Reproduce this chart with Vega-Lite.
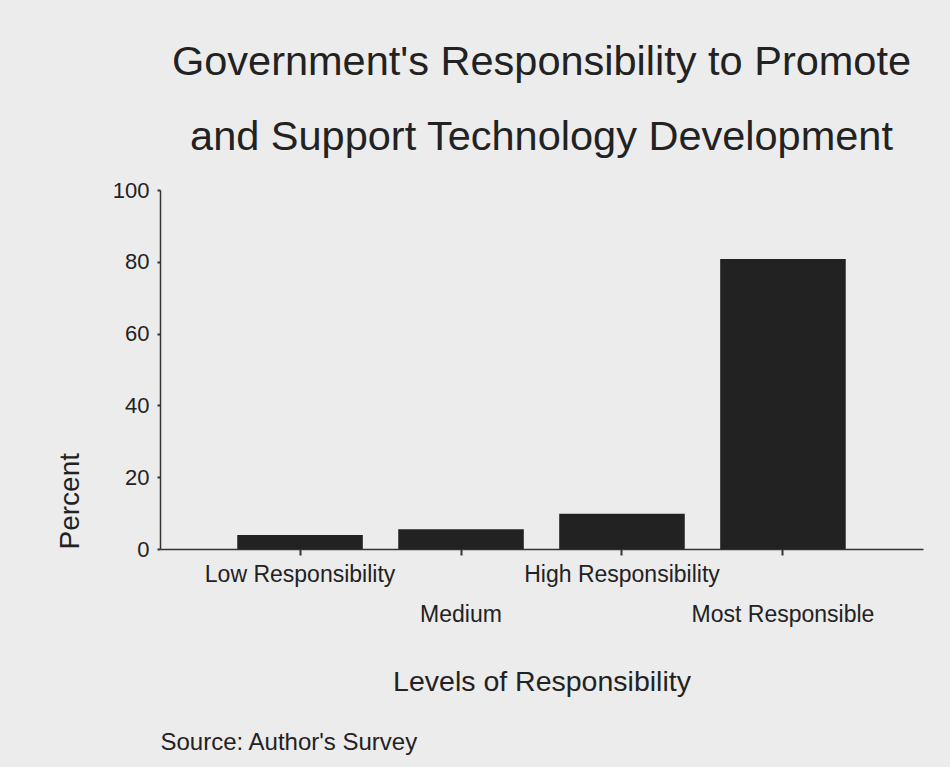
{
  "$schema": "https://vega.github.io/schema/vega-lite/v6.json",
  "autosize": {"type": "none"},
  "padding": {"left": 160, "top": 190, "right": 27, "bottom": 218},
  "width": 763,
  "height": 359,
  "background": "#ececec",
  "data": {"values": [
    {"level": "Low Responsibility", "percent": 3.9},
    {"level": "Medium", "percent": 5.5},
    {"level": "High Responsibility", "percent": 9.8},
    {"level": "Most Responsible", "percent": 80.8}
  ]},
  "title": {
    "text": ["Government's Responsibility to Promote", "and Support Technology Development"],
    "font": "Liberation Sans",
    "fontSize": 41.5,
    "fontWeight": "normal",
    "color": "#222222",
    "lineHeight": 75,
    "anchor": "middle",
    "baseline": "alphabetic",
    "offset": -12
  },
  "config": {
    "view": {"stroke": null},
    "font": "Liberation Sans"
  },
  "resolve": {"axis": {"x": "independent"}},
  "layer": [
    {
      "mark": {"type": "bar", "color": "#222222"},
      "encoding": {
        "x": {
          "field": "level",
          "type": "nominal",
          "sort": null,
          "scale": {"paddingInner": 0.22, "paddingOuter": 0.48},
          "axis": {
            "orient": "bottom",
            "title": "Levels of Responsibility",
            "titleFont": "Liberation Sans",
            "titleFontSize": 28.5,
            "titleFontWeight": "normal",
            "titleColor": "#222222",
            "titleBaseline": "alphabetic",
            "titlePadding": 64,
            "labelAngle": 0,
            "labelFont": "Liberation Sans",
            "labelFontSize": 23,
            "labelColor": "#222222",
            "labelLineHeight": 40,
            "labelPadding": 8,
            "labelLimit": 500,
            "labelExpr": "(datum.value == 'Medium' || datum.value == 'Most Responsible') ? ['', datum.value] : datum.value",
            "tickSize": 6,
            "tickWidth": 2,
            "tickColor": "#333333",
            "domainColor": "#333333",
            "domainWidth": 1.5,
            "grid": false
          }
        },
        "y": {
          "field": "percent",
          "type": "quantitative",
          "scale": {"domain": [0, 100]},
          "axis": {
            "title": "Percent",
            "titleFont": "Liberation Sans",
            "titleFontSize": 28,
            "titleFontWeight": "normal",
            "titleColor": "#222222",
            "titleAnchor": "start",
            "titleBaseline": "alphabetic",
            "titlePadding": 34,
            "values": [0, 20, 40, 60, 80, 100],
            "labelFont": "Liberation Sans",
            "labelFontSize": 22,
            "labelColor": "#222222",
            "labelPadding": 8,
            "tickSize": 3,
            "tickWidth": 2,
            "tickColor": "#333333",
            "domainColor": "#333333",
            "domainWidth": 1.5,
            "grid": false
          }
        }
      }
    },
    {
      "mark": {"type": "bar", "opacity": 0},
      "encoding": {
        "x": {
          "field": "level",
          "type": "nominal",
          "sort": null,
          "axis": {
            "orient": "bottom",
            "title": "Source: Author's Survey",
            "titleFont": "Liberation Sans",
            "titleFontSize": 24,
            "titleFontWeight": "normal",
            "titleColor": "#222222",
            "titleAnchor": "start",
            "titleBaseline": "alphabetic",
            "titlePadding": 200,
            "labels": false,
            "ticks": false,
            "domain": false,
            "grid": false
          }
        },
        "y": {"field": "percent", "type": "quantitative"}
      }
    }
  ]
}
